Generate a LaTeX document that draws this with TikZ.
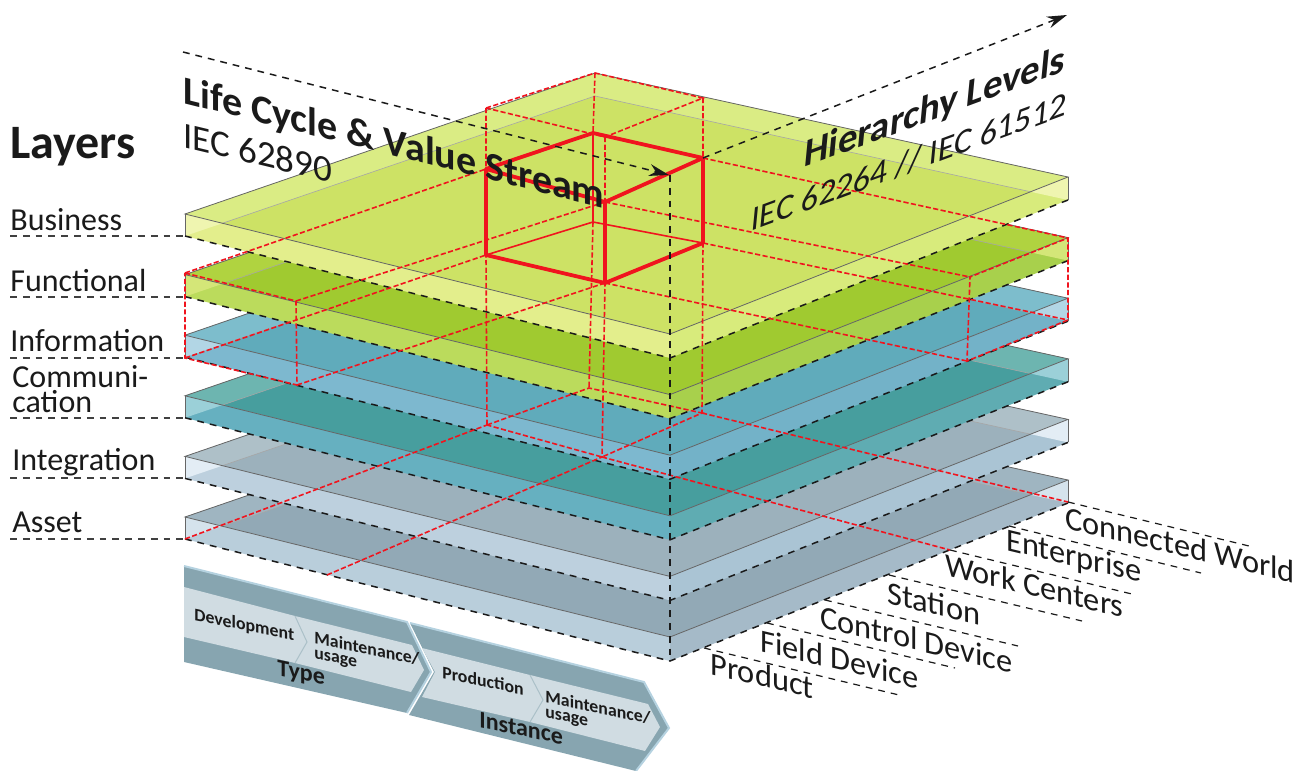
\documentclass[tikz,border=0pt]{standalone}
\usepackage{fontspec}
\setmainfont{Carlito}
\usetikzlibrary{arrows.meta}
\definecolor{ink}{HTML}{1A1A1A}
\definecolor{gridred}{HTML}{F0141E}
\definecolor{panel}{HTML}{87A5B0}
\definecolor{panelrim}{HTML}{B5D2E0}
\definecolor{band}{HTML}{D0DCE2}
\definecolor{bustop}{HTML}{CDE265}\definecolor{busstrip}{HTML}{DAEC84}\definecolor{buswall}{HTML}{E3EE8C}\definecolor{busside}{HTML}{D8EB7C}\definecolor{bustri}{HTML}{EFF5B0}
\definecolor{funtop}{HTML}{A0CA30}\definecolor{funstrip}{HTML}{B0D340}\definecolor{funwall}{HTML}{BBDB5C}\definecolor{funside}{HTML}{A8D04C}\definecolor{funtri}{HTML}{D4E678}
\definecolor{inftop}{HTML}{60ABBB}\definecolor{infstrip}{HTML}{7DBDCC}\definecolor{infwall}{HTML}{7DB8CF}\definecolor{infside}{HTML}{73B2C8}\definecolor{inftri}{HTML}{B2D6E5}
\definecolor{comtop}{HTML}{479E9E}\definecolor{comstrip}{HTML}{6DB5B0}\definecolor{comwall}{HTML}{66B0C0}\definecolor{comside}{HTML}{5FACB2}\definecolor{comtri}{HTML}{9BD0D8}
\definecolor{inttop}{HTML}{9CB1BC}\definecolor{intstrip}{HTML}{AEC0C8}\definecolor{intwall}{HTML}{BDD0DE}\definecolor{intside}{HTML}{AAC4D4}\definecolor{inttri}{HTML}{E3EDF5}
\definecolor{asstop}{HTML}{92A9B6}\definecolor{assstrip}{HTML}{9FB5C1}\definecolor{asswall}{HTML}{B9CEDB}\definecolor{assside}{HTML}{A5BAC8}\definecolor{asstri}{HTML}{D5E3EC}
\tikzstyle{Label} = [anchor=base west, inner sep=0pt, text=ink]
\tikzstyle{Edge} = [draw=black!60, line width=0.4pt]
\tikzstyle{Hidden} = [draw=black!35, line width=0.3pt]
\tikzstyle{Guide} = [draw=ink, line width=0.75pt, dash pattern=on 3.4pt off 3pt]
\tikzstyle{Grid} = [draw=gridred, line width=0.8pt, dash pattern=on 2.6pt off 1.2pt]
\tikzstyle{Cube} = [draw=gridred, line width=1.9pt, line join=round]
\tikzstyle{Thin} = [draw=gridred, line width=0.8pt]
\tikzstyle{Layer} = [Label, font=\fontsize{16}{18}\selectfont]
\tikzstyle{Tag} = [Label, yslant=-0.24, font=\fontsize{16.2}{18}\selectfont]
\tikzstyle{Step} = [Label, yslant=-0.21, font=\fontsize{8.9}{10}\selectfont\bfseries]
\tikzstyle{Phase} = [Label, yslant=-0.21, font=\fontsize{12}{14}\selectfont\bfseries]
\begin{document}
\begin{tikzpicture}[x=0.5pt, y=-0.5pt]
    \useasboundingbox (0,0) rectangle (1298,771);
    \foreach \k/\lay in {5/ass,4/int,3/com,2/inf,1/fun,0/bus} {
        \begin{scope}[shift={(0,\k*60.6)}]
            \coordinate (lt) at (185,214);
            \coordinate (lb) at (185,236);
            \coordinate (bt) at (595,73);
            \coordinate (bb) at (595,96);
            \coordinate (rt) at (1068,177);
            \coordinate (rb) at (1068,200);
            \coordinate (ft) at (670,334);
            \coordinate (fb) at (670,358);
            \fill [\lay top] (lt) -- (bt) -- (rt) -- (ft) -- cycle;
            \fill [\lay strip] (lt) -- (bt) -- (rt) -- (rb) -- (bb) -- (lb) -- cycle;
            \fill [\lay wall] (lt) -- (ft) -- (fb) -- (lb) -- cycle;
            \fill [\lay side] (rt) -- (ft) -- (fb) -- (rb) -- cycle;
            \fill [\lay tri] (lt) -- (lb) -- (intersection of lt--ft and lb--bb) -- cycle;
            \fill [\lay tri] (rt) -- (rb) -- (intersection of rt--ft and rb--bb) -- cycle;
            \draw [Hidden] (intersection of lt--ft and lb--bb) -- (bb) -- (intersection of rt--ft and rb--bb);
            \draw [Edge] (lt) -- (bt) -- (rt) -- (ft) -- cycle;
            \draw [Edge] (lt) -- (lb);
            \draw [Edge] (rt) -- (rb);
            \draw [Guide] (lb) -- (fb) -- (rb);
        \end{scope}
    }
    \foreach \k/\yy in {0/236,1/297,2/358,3/418,4/478,5/539} {
        \coordinate (ls\k) at (10,\yy);
        \coordinate (le\k) at (185,\yy);
        \draw [Guide, draw=black!75] (ls\k) -- (le\k);
    }
    \node [Label, font=\fontsize{24}{26}\selectfont\bfseries] (layers) at (10,158) {Layers};
    \node [Layer] (business) at (10,230) {Business};
    \node [Layer] (functional) at (10,291) {Functional};
    \node [Layer] (information) at (10,351) {Information};
    \node [Layer] (communi) at (12,387) {Communi-};
    \node [Layer] (cation) at (12,412) {cation};
    \node [Layer] (integration) at (12,470) {Integration};
    \node [Layer] (asset) at (12,532) {Asset};
    % grid points
    \coordinate (a1) at (486,108);
    \coordinate (a2) at (595,73);
    \coordinate (a3) at (703,98);
    \coordinate (a4) at (605,137);
    \coordinate (b1) at (486,169);
    \coordinate (b2) at (593,133);
    \coordinate (b3) at (703,158);
    \coordinate (b4) at (605,202);
    \coordinate (c1) at (486,255);
    \coordinate (c2) at (593,222);
    \coordinate (c3) at (703,243);
    \coordinate (c4) at (605,283);
    \coordinate (d1) at (487,425);
    \coordinate (d2) at (589,388);
    \coordinate (d3) at (702,413);
    \coordinate (d4) at (602,457);
    \coordinate (l1) at (185,273);
    \coordinate (l2) at (296,301);
    \coordinate (l3) at (185,358);
    \coordinate (l4) at (297,385);
    \coordinate (r1) at (1068,238);
    \coordinate (r2) at (970,277);
    \coordinate (r3) at (1068,320);
    \coordinate (r4) at (967,361);
    \coordinate (s1) at (185,539);
    \coordinate (s2) at (327,575);
    \coordinate (s3) at (1068,502);
    \coordinate (s4) at (950,550);
    \draw [Grid] (a1) -- (a2) -- (a3) -- (a4) -- cycle;
    \draw [Grid] (a1) -- (b1) -- (c1) -- (d1);
    \draw [Grid] (a2) -- (b2);
    \draw [Grid] (c2) -- (d2);
    \draw [Grid] (a3) -- (b3) -- (c3) -- (d3);
    \draw [Grid] (a4) -- (b4) -- (c4) -- (d4);
    \draw [Grid] (d1) -- (d2) -- (d3) -- (d4) -- cycle;
    \draw [Grid] (l1) -- (b1);
    \draw [Grid] (l2) -- (b4);
    \draw [Grid] (l3) -- (c1);
    \draw [Grid] (l4) -- (c4);
    \draw [Grid] (l1) -- (l2) -- (l4) -- (l3) -- cycle;
    \draw [Grid] (b3) -- (r1) -- (r3) -- (r4) -- (r2) -- (r1);
    \draw [Grid] (b4) -- (r2);
    \draw [Grid] (c3) -- (r3);
    \draw [Grid] (c4) -- (r4);
    \draw [Grid] (s1) -- (d1);
    \draw [Grid] (s2) -- (d4);
    \draw [Grid] (d3) -- (s3);
    \draw [Grid] (d4) -- (s4);
    % cube
    \draw [Thin] (b2) -- (c2);
    \draw [Thin] (c1) -- (c2) -- (c3);
    \draw [Cube] (b1) -- (b2) -- (b3) -- (b4) -- cycle;
    \draw [Cube] (b1) -- (c1) -- (c4) -- (c3) -- (b3);
    \draw [Cube] (b4) -- (c4);
    % axes
    \coordinate (x0) at (183,52);
    \coordinate (x1) at (669,175);
    \coordinate (y0) at (703,158);
    \coordinate (y1) at (1067,15);
    \coordinate (z0) at (670,175);
    \coordinate (z1) at (670,661);
    \draw [Guide, -{Stealth[length=10pt,width=6pt]}] (x0) -- (x1);
    \draw [Guide, -{Stealth[length=10pt,width=6pt]}] (y0) -- (y1);
    \draw [Guide] (z0) -- (z1);
    \node [Label, yslant=-0.25, font=\fontsize{20}{22}\selectfont\bfseries] (life) at (183,103) {Life Cycle \& Value Stream};
    \node [Label, yslant=-0.24, font=\fontsize{18.5}{20}\selectfont] (iec1) at (183,147) {IEC 62890};
    \node [Label, yslant=0.37, xslant=0.1, font=\fontsize{19.4}{22}\selectfont\bfseries] (hier) at (803,168) {Hierarchy Levels};
    \node [Label, yslant=0.37, xslant=0.1, font=\fontsize{17}{20}\selectfont] (iec2) at (750,232) {IEC 62264 // IEC 61512};
    % hierarchy levels
    \foreach \k/\xa/\ya/\xb/\yb in {1/1068/502/1249/546, 2/1009/526/1201/573, 3/950/550/1136/595, 4/889/575/1082/621, 5/825/600/1018/646, 6/767/623/955/668, 7/704/648/899/695} {
        \coordinate (ha\k) at (\xa,\ya);
        \coordinate (hb\k) at (\xb,\yb);
        \draw [Guide, line width=0.6pt] (ha\k) -- (hb\k);
    }
    \node [Tag] (world) at (1065,528) {Connected World};
    \node [Tag] (enterprise) at (1006,550) {Enterprise};
    \node [Tag] (work) at (945,575) {Work Centers};
    \node [Tag] (station) at (887,603) {Station};
    \node [Tag] (control) at (820,627) {Control Device};
    \node [Tag] (field) at (760,651) {Field Device};
    \node [Tag] (product) at (710,674) {Product};
    % life cycle panels
    \coordinate (p1) at (184,566);
    \coordinate (p2) at (407,622);
    \coordinate (p3) at (431,672);
    \coordinate (p4) at (407,713);
    \coordinate (p5) at (184,662);
    \coordinate (q1) at (410,623);
    \coordinate (q2) at (644,682);
    \coordinate (q3) at (669,728);
    \coordinate (q4) at (636,771);
    \coordinate (q5) at (409,715);
    \coordinate (q6) at (434,672);
    \fill [panel] (p1) -- (p2) -- (p3) -- (p4) -- (p5) -- cycle;
    \fill [panel] (q1) -- (q2) -- (q3) -- (q4) -- (q5) -- (q6) -- cycle;
    \draw [draw=panelrim, line width=1pt] (p1) -- (p2) -- (p3) -- (p4);
    \draw [draw=panelrim, line width=1pt] (q1) -- (q2) -- (q3) -- (q4);
    \coordinate (e1) at (184,587);
    \coordinate (e2) at (295,616);
    \coordinate (e3) at (412,645);
    \coordinate (e4) at (424,670);
    \coordinate (e5) at (411,692);
    \coordinate (e6) at (295,663);
    \coordinate (e7) at (184,637);
    \coordinate (e8) at (307,642);
    \coordinate (f1) at (422,648);
    \coordinate (f2) at (530,675);
    \coordinate (f3) at (648,704);
    \coordinate (f4) at (660,727);
    \coordinate (f5) at (645,751);
    \coordinate (f6) at (530,722);
    \coordinate (f7) at (422,697);
    \coordinate (f8) at (543,700);
    \coordinate (f9) at (435,672);
    \fill [band] (e1) -- (e2) -- (e3) -- (e4) -- (e5) -- (e6) -- (e7) -- cycle;
    \fill [band] (f1) -- (f2) -- (f3) -- (f4) -- (f5) -- (f6) -- (f7) -- (f9) -- cycle;
    \draw [draw=panel!70, line width=0.5pt] (e2) -- (e8) -- (e6);
    \draw [draw=panel!70, line width=0.5pt] (f2) -- (f8) -- (f6);
    \node [Step] (dev) at (194,620) {Development};
    \node [Step] (main1) at (314,643) {Maintenance/};
    \node [Step] (usage1) at (314,658) {usage};
    \node [Phase] (type) at (277,675) {Type};
    \node [Step] (prod) at (442,678) {Production};
    \node [Step] (main2) at (545,702) {Maintenance/};
    \node [Step] (usage2) at (545,717) {usage};
    \node [Phase] (inst) at (479,727) {Instance};
\end{tikzpicture}
\end{document}
